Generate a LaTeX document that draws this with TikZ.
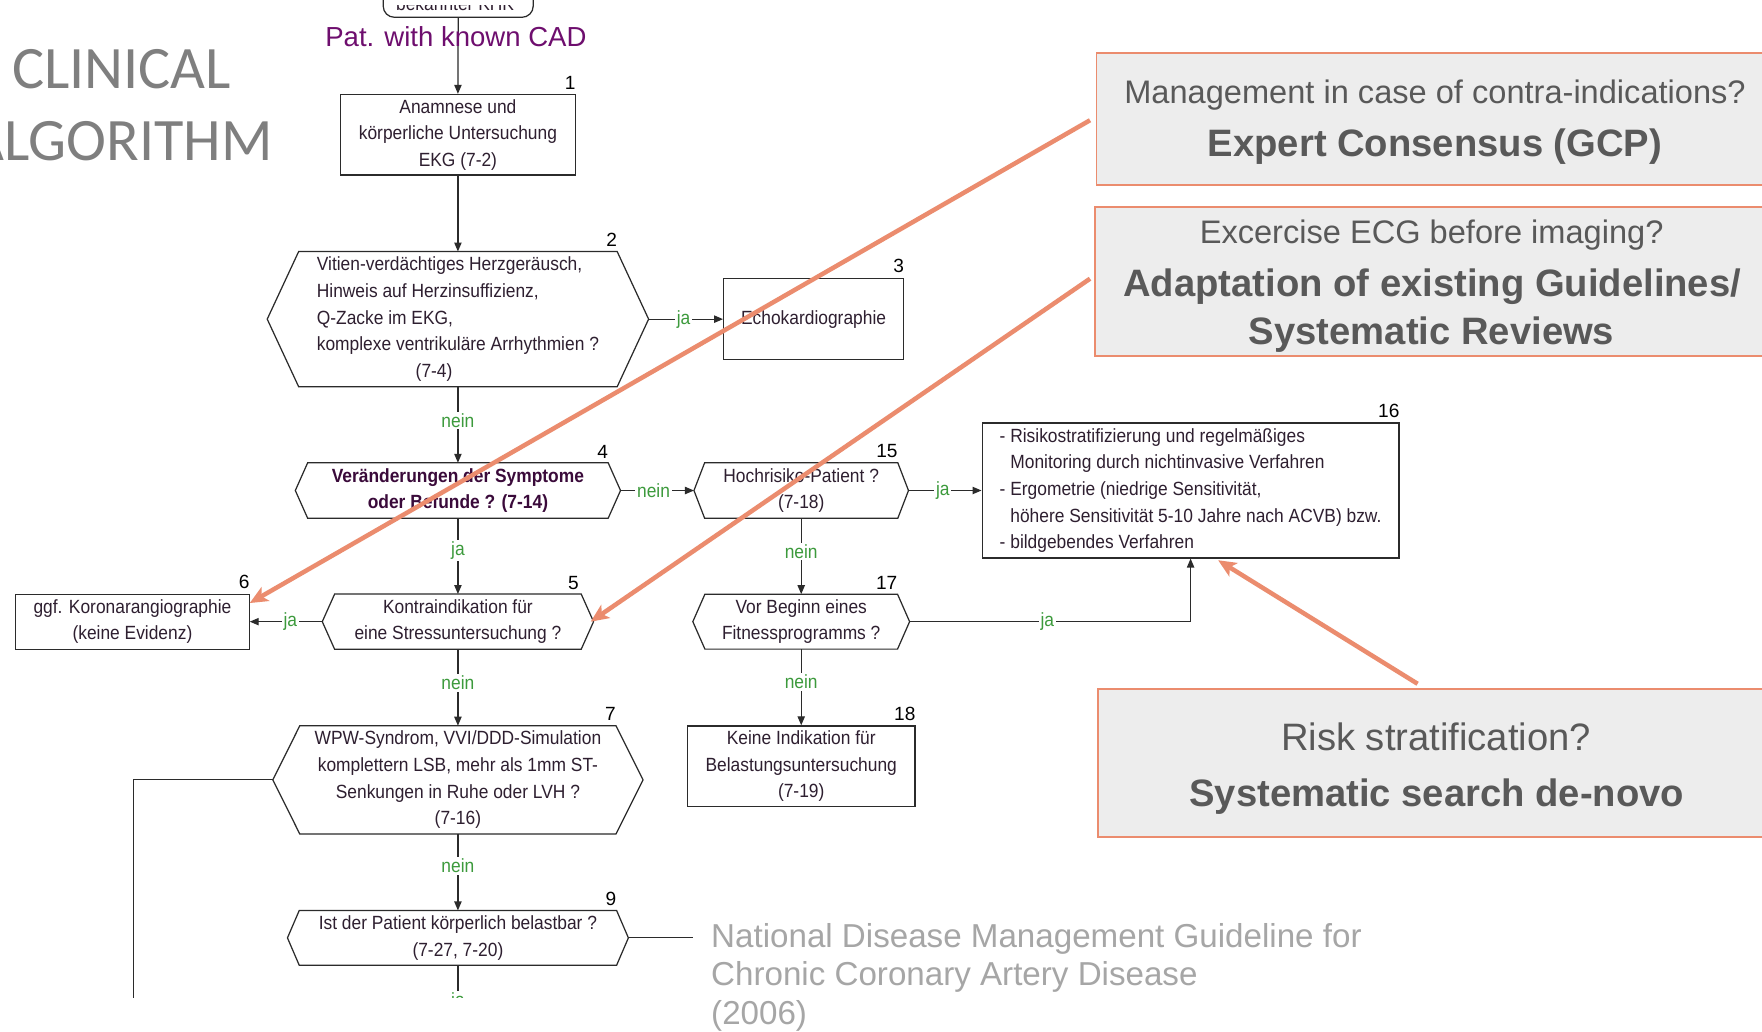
\documentclass[tikz,border=0pt]{standalone}
\usepackage{fontspec}
\setmainfont{Liberation Sans}
\newfontfamily\flowfont[FakeStretch=0.91]{Liberation Sans}
\newfontfamily\titlefont{Carlito}
\usetikzlibrary{arrows.meta,calc}
\definecolor{flowtext}{HTML}{2E1F30}
\definecolor{boldtext}{HTML}{3A0A3A}
\definecolor{flowline}{HTML}{2B2B2B}
\definecolor{yesno}{HTML}{3C9A3C}
\definecolor{salmon}{HTML}{EB8C6E}
\definecolor{calloutfill}{HTML}{EDEDED}
\definecolor{callouttext}{HTML}{595959}
\definecolor{titlegray}{HTML}{7F7F7F}
\definecolor{sourcegray}{HTML}{A6A6A6}
\definecolor{patpurple}{HTML}{6E0E6E}
\newcommand\hexframe[2]{%
  \coordinate (#1L) at ([xshift=-#2pt]#1.west);
  \coordinate (#1R) at ([xshift=#2pt]#1.east);
  \draw[flowplain] (#1.north west) -- (#1.north east) -- (#1R) -- (#1.south east) -- (#1.south west) -- (#1L) -- cycle;}
\begin{document}
\begin{tikzpicture}[x=1pt,y=-1pt,
  flowfnt/.style={font=\flowfont\fontsize{17}{23.7}\selectfont},
  rectbox/.style={draw=flowline, line width=1.1pt, flowfnt, text=flowtext, align=center, inner sep=0pt},
  hexin/.style={flowfnt, text=flowtext, align=center, inner sep=0pt},
  numlabel/.style={font=\fontsize{17}{20}\selectfont, text=black, anchor=south east, inner sep=0pt, yshift=4pt},
  yn/.style={flowfnt, text=yesno, fill=white, inner sep=1.5pt},
  flowarrow/.style={draw=flowline, line width=1.1pt, -{Triangle[length=8pt,width=6.5pt]}},
  flowplain/.style={draw=flowline, line width=1.1pt},
  calloutbox/.style={draw=salmon, line width=1.6pt, fill=calloutfill, inner sep=0pt},
  ctext/.style={text=callouttext, inner sep=0pt, anchor=base, font=\fontsize{29}{34}\selectfont},
  cbold/.style={text=callouttext, inner sep=0pt, anchor=base, font=\fontsize{34}{40}\selectfont\bfseries},
  calloutarrow/.style={draw=salmon, line width=4pt, -{Stealth[length=16pt,width=14pt,inset=4pt]}},
]
\fill[white] (0,0) rectangle (1568,918);
\useasboundingbox (0,0) rectangle (1568,918);

% title
\node[anchor=base west, inner sep=0pt, text=titlegray, font=\titlefont\fontsize{53.6}{60}\selectfont] (title1) at (10.5,78.6) {CLINICAL};
\node[anchor=base east, inner sep=0pt, text=titlegray, font=\titlefont\fontsize{53.6}{60}\selectfont] (title2) at (243,142.4) {ALGORITHM};

% top (cut) box
\node[draw=flowline, line width=1.1pt, rounded corners=10pt, minimum width=133.5pt, minimum height=60pt, inner sep=0pt] (n0) at (407.75,-14.6) {};
\begin{scope}
\clip (330,4.5) rectangle (490,14);
\node[flowfnt, text=flowtext, anchor=base, inner sep=0pt] (n0t) at (405,9.5) {bekannter KHK};
\end{scope}

% flow nodes
\node[rectbox, minimum width=208.7pt, minimum height=71.7pt] (n1) at (407.5,119.9) {Anamnese und\\körperliche Untersuchung\\EKG (7-2)};
\node[numlabel] (l1) at (n1.north east) {1};

\node[hexin, align=left, minimum width=283pt, minimum height=120pt] (n2) at (407.5,284) {Vitien-verdächtiges Herzgeräusch,\\Hinweis auf Herzinsuffizienz,\\Q-Zacke im EKG,\\komplexe ventrikuläre Arrhythmien ?\\\hspace*{88pt}(7-4)};
\hexframe{n2}{28}
\node[numlabel] (l2) at (n2.north east) {2};

\node[rectbox, minimum width=160pt, minimum height=72.5pt] (n3) at (724,284) {Echokardiographie};
\node[numlabel] (l3) at (n3.north east) {3};

\node[hexin, font=\flowfont\bfseries\fontsize{17}{23.7}\selectfont, text=boldtext, minimum width=267pt, minimum height=49pt] (n4) at (407.5,436.5) {Veränderungen der Symptome\\oder Befunde ? (7-14)};
\hexframe{n4}{11}
\node[numlabel] (l4) at (n4.north east) {4};

\node[hexin, minimum width=171.5pt, minimum height=49pt] (n15) at (713,436.5) {Hochrisiko-Patient ?\\(7-18)};
\hexframe{n15}{9.5}
\node[numlabel] (l15) at (n15.north east) {15};

\node[rectbox, align=left, minimum width=371pt, minimum height=120pt] (n16) at (1059.5,436.5) {- Risikostratifizierung und regelmäßiges\\\hspace*{9.5pt}Monitoring durch nichtinvasive Verfahren\\- Ergometrie (niedrige Sensitivität,\\\hspace*{9.5pt}höhere Sensitivität 5-10 Jahre nach ACVB) bzw.\\- bildgebendes Verfahren};
\node[numlabel] (l16) at (n16.north east) {16};

\node[hexin, minimum width=219pt, minimum height=48.8pt] (n5) at (407.5,553.2) {Kontraindikation für\\eine Stressuntersuchung ?};
\hexframe{n5}{11}
\node[numlabel, xshift=-2pt] (l5) at (n5.north east) {5};

\node[rectbox, minimum width=207.7pt, minimum height=49pt] (n6) at (117.85,553.2) {ggf. Koronarangiographie\\(keine Evidenz)};
\node[numlabel] (l6) at (n6.north east) {6};

\node[hexin, minimum width=171pt, minimum height=48.5pt] (n17) at (713,553.2) {Vor Beginn eines\\Fitnessprogramms ?};
\hexframe{n17}{10.75}
\node[numlabel] (l17) at (n17.north east) {17};

\node[hexin, minimum width=281pt, minimum height=96pt] (n7) at (407.5,694) {WPW-Syndrom, VVI/DDD-Simulation\\komplettern LSB, mehr als 1mm ST-\\Senkungen in Ruhe oder LVH ?\\(7-16)};
\hexframe{n7}{24}
\node[numlabel] (l7) at (n7.north east) {7};

\node[rectbox, minimum width=202.5pt, minimum height=72pt] (n18) at (713,682) {Keine Indikation für\\Belastungsuntersuchung\\(7-19)};
\node[numlabel] (l18) at (n18.north east) {18};

\node[hexin, minimum width=282pt, minimum height=48.4pt] (n9) at (407.5,834.6) {Ist der Patient körperlich belastbar ?\\(7-27, 7-20)};
\hexframe{n9}{10.5}
\node[numlabel] (l9) at (n9.north east) {9};

% connectors
\draw[flowarrow] (n0.south) -- (n1.north);
\node[anchor=base, inner sep=0pt, text=patpurple, font=\fontsize{24.5}{28}\selectfont] (pat) at (405.7,41) {Pat. with known CAD};
\draw[flowarrow] (n1.south) -- (n2.north);
\draw[flowarrow] (n2R) -- node[yn,pos=0.47]{ja} (n3.west);
\draw[flowarrow] (n2.south) -- node[yn,pos=0.44]{nein} (n4.north);
\draw[flowarrow] (n4R) -- node[yn,pos=0.45]{nein} (n15L);
\draw[flowarrow] (n15R) -- node[yn,pos=0.47]{ja} (n16.west);
\draw[flowarrow] (n4.south) -- node[yn,pos=0.43]{ja} (n5.north);
\draw[flowarrow] (n5L) -- node[yn,pos=0.44]{ja} (n6.east);
\draw[flowarrow] (n5.south) -- node[yn,pos=0.44]{nein} (n7.north);
\draw[flowarrow] (n15.south) -- node[yn,pos=0.44]{nein} (n17.north);
\draw[flowarrow] (n17.south) -- node[yn,pos=0.43]{nein} (n18.north);
\draw[flowarrow] (n17R) -| node[yn,pos=0.245]{ja} (n16.south);
\draw[flowarrow] (n7.south) -- node[yn,pos=0.42]{nein} (n9.north);
\coordinate (c9r) at (616.7,834.6);
\draw[flowplain] (n9R) -- (c9r);
\begin{scope}
\clip (0,0) rectangle (1568,887.5);
\coordinate (c7b) at (118.6,900);
\draw[flowplain] (n7L) -| (c7b);
\coordinate (c9b) at (407.5,940);
\draw[flowplain] (n9.south) -- node[yn,pos=0.397]{ja} (c9b);
\end{scope}

% callout boxes
\node[calloutbox, minimum width=601.6pt, minimum height=117.7pt] (cA) at (1276.6,105.75) {};
\node[ctext] (tA1) at (1277,92) {Management in case of contra-indications?};
\node[cbold] (tA2) at (1277,139.5) {Expert Consensus (GCP)};

\node[calloutbox, minimum width=603pt, minimum height=132.5pt] (cB) at (1276,250.25) {};
\node[ctext] (tB1) at (1274,217) {Excercise ECG before imaging?};
\node[cbold] (tB2) at (1274.5,264) {Adaptation of existing Guidelines/};
\node[cbold] (tB3) at (1274,307) {Systematic Reviews};

\node[calloutbox, minimum width=600pt, minimum height=132pt] (cC) at (1277,679) {};
\node[ctext, font=\fontsize{34}{40}\selectfont] (tC1) at (1278,668) {Risk stratification?};
\node[cbold] (tC2) at (1278.5,718) {Systematic search de-novo};

% source
\node[anchor=north west, inner sep=0pt, align=left, text=sourcegray, font=\fontsize{29.5}{34}\selectfont] (src) at (632.7,821.7) {National Disease Management Guideline for\\Chronic Coronary Artery Disease\\(2006)};

% orange pointers
\coordinate (a1) at (970,107);
\coordinate (a2) at (970,248);
\coordinate (a3) at (1261.5,608.5);
\draw[calloutarrow] (a1) -- ([yshift=-8.5pt]n6.north east);
\draw[calloutarrow] (a2) -- ([xshift=-2.5pt]n5R);
\draw[calloutarrow] (a3) -- ([xshift=24.5pt,yshift=-1.5pt]n16.south);
\end{tikzpicture}
\end{document}
